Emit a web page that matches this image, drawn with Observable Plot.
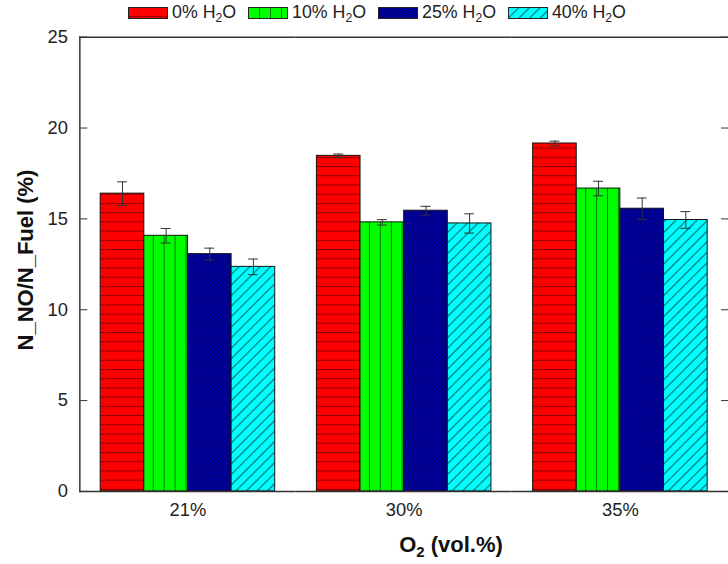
<!DOCTYPE html>
<html>
<head>
<meta charset="utf-8">
<script src="https://cdn.jsdelivr.net/npm/d3@7"></script>
<script src="https://cdn.jsdelivr.net/npm/@observablehq/plot@0.6"></script>
<style>
  body { margin: 0; background: #fff; font-family: "Liberation Sans", Arial, sans-serif; }
  #wrap { position: relative; width: 728px; height: 564px; overflow: hidden; background: #fff; }
  #chart { position: absolute; left: 0; top: 0; }
  #legend { position: absolute; top: 2px; left: 128px; display: flex; align-items: center; font-size: 17.8px; color: #222; white-space: nowrap; }
  .item { display: flex; align-items: center; margin-right: 12px; }
  .item svg { margin-right: 4px; }
  sub { font-size: 68%; vertical-align: -0.35em; line-height: 0; }
  #xtitle { position: absolute; left: 451px; top: 545px; transform: translate(-50%, -50%); font-weight: bold; font-size: 22px; color: #111; white-space: nowrap; }
  #ytitle { position: absolute; left: 26px; top: 260px; transform: translate(-50%, -50%) rotate(-90deg); font-weight: bold; font-size: 22px; color: #111; white-space: nowrap; }
</style>
</head>
<body>
<div id="wrap">
  <svg width="0" height="0" style="position:absolute">
    <defs>
      <pattern id="pat0" patternUnits="userSpaceOnUse" width="10" height="9.3">
        <rect width="10" height="9.3" fill="#ff0000"></rect>
        <line x1="0" y1="0.5" x2="10" y2="0.5" stroke="#8a0000" stroke-width="1"></line>
      </pattern>
      <pattern id="pat1" patternUnits="userSpaceOnUse" width="11" height="10">
        <rect width="11" height="10" fill="#00ff00"></rect>
        <line x1="0.5" y1="0" x2="0.5" y2="10" stroke="#007a00" stroke-width="1"></line>
      </pattern>
      <pattern id="pat2" patternUnits="userSpaceOnUse" width="5" height="5">
        <rect width="5" height="5" fill="#0000a8"></rect>
        <path d="M0,0L5,5M5,0L0,5" stroke="#00005a" stroke-width="0.8"></path>
      </pattern>
      <pattern id="pat3" patternUnits="userSpaceOnUse" width="7.5" height="7.5" patternTransform="rotate(45)">
        <rect width="7.5" height="7.5" fill="#00ffff"></rect>
        <line x1="0.6" y1="0" x2="0.6" y2="7.5" stroke="#007575" stroke-width="1.2"></line>
      </pattern>
    </defs>
  </svg>
  <div id="chart"></div>
  <div id="legend"></div>
  <div id="xtitle">O<sub>2</sub> (vol.%)</div>
  <div id="ytitle">N_NO/N_Fuel (%)</div>
</div>
<script>
// ---- data ----
const oxygen = ["21%", "30%", "35%"];
const water = ["0% H2O", "10% H2O", "25% H2O", "40% H2O"];
const waterPct = ["0%", "10%", "25%", "40%"];
const nno0  = [16.39, 18.47, 19.15];
const nno10 = [14.07, 14.81, 16.67];
const nno25 = [13.06, 15.45, 15.56];
const nno40 = [12.36, 14.75, 14.94];
const err0  = [0.65, 0.10, 0.13];
const err10 = [0.40, 0.15, 0.40];
const err25 = [0.33, 0.24, 0.59];
const err40 = [0.43, 0.53, 0.46];
const yTicks = [0, 5, 10, 15, 20, 25];
const patterns = ["url(#pat0)", "url(#pat1)", "url(#pat2)", "url(#pat3)"];

const values = [nno0, nno10, nno25, nno40];
const errs = [err0, err10, err25, err40];
const rows = oxygen.flatMap((o, i) => water.map((w, j) => ({o2: o, water: w, value: values[j][i], err: errs[j][i]})));

const plot = Plot.plot({
  width: 734,
  height: 564,
  marginLeft: 80,
  marginRight: 0,
  marginTop: 37,
  marginBottom: 69,
  style: {fontFamily: "Liberation Sans, Arial, sans-serif", fontSize: "18.5px", color: "#222", background: "transparent"},
  fx: {domain: oxygen, padding: 0, label: null},
  x: {domain: water, paddingInner: 0, paddingOuter: 0.477, axis: null},
  y: {domain: [0, 25]},
  color: {domain: water, range: patterns},
  marks: [
    Plot.barY(rows, {fx: "o2", x: "water", y: "value", fill: "water", stroke: "#111", strokeWidth: 1}),
    Plot.ruleX(rows, {fx: "o2", x: "water", y1: d => d.value - d.err, y2: d => d.value + d.err, stroke: "#333", strokeWidth: 1}),
    Plot.tickY(rows, {fx: "o2", x: "water", y: d => d.value + d.err, insetLeft: 17, insetRight: 17, stroke: "#333"}),
    Plot.tickY(rows, {fx: "o2", x: "water", y: d => d.value - d.err, insetLeft: 17, insetRight: 17, stroke: "#333"}),
    Plot.ruleY([0], {stroke: "#333", strokeWidth: 1.5}),
    Plot.ruleY([25], {stroke: "#333", strokeWidth: 1.5}),
    Plot.frame({anchor: "left", facetAnchor: "left", stroke: "#333", strokeWidth: 1.5}),
    Plot.axisY(yTicks, {anchor: "left", tickSize: 0, tickPadding: 12, label: null}),
    Plot.axisY(yTicks, {anchor: "left", tickSize: 8, dx: 8, text: null, label: null, stroke: "#333"}),
    Plot.axisY(yTicks, {anchor: "right", tickSize: 8, dx: -8, text: null, label: null, stroke: "#333"}),
    Plot.axisFx({anchor: "bottom", tickSize: 0, tickPadding: 12, label: null})
  ]
});
document.getElementById("chart").appendChild(plot);

// legend
const legend = document.getElementById("legend");
water.forEach((w, j) => {
  const item = document.createElement("div");
  item.className = "item";
  item.innerHTML = `<svg width="40" height="12"><rect x="0.5" y="0.5" width="39" height="11" fill="${patterns[j]}" stroke="#222"></rect></svg><span>${waterPct[j]} H<sub>2</sub>O</span>`;
  legend.appendChild(item);
});
</script>
</body>
</html>
